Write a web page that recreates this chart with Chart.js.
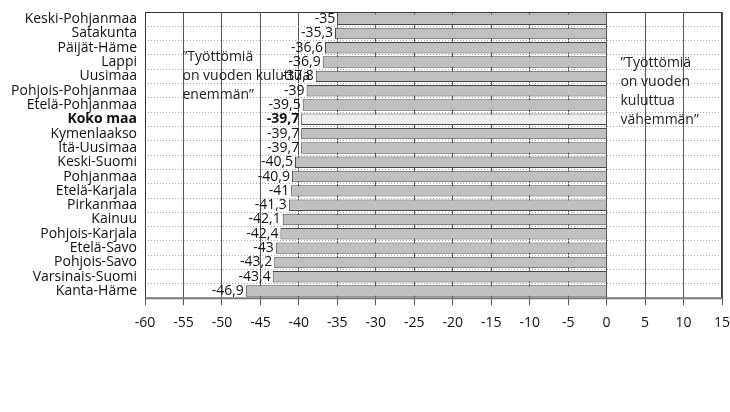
<!DOCTYPE html>
<html>
<head>
<meta charset="utf-8">
<style>
  html, body { margin: 0; padding: 0; background: #fff; }
  #wrap { width: 730px; height: 412px; }
</style>
</head>
<body>
<div id="wrap"><canvas id="chart"></canvas></div>
<script src="https://cdn.jsdelivr.net/npm/chart.js"></script>
<script>
var regions = ['Keski-Pohjanmaa', 'Satakunta', 'Päijät-Häme', 'Lappi', 'Uusimaa',
  'Pohjois-Pohjanmaa', 'Etelä-Pohjanmaa', 'Koko maa', 'Kymenlaakso', 'Itä-Uusimaa',
  'Keski-Suomi', 'Pohjanmaa', 'Etelä-Karjala', 'Pirkanmaa', 'Kainuu',
  'Pohjois-Karjala', 'Etelä-Savo', 'Pohjois-Savo', 'Varsinais-Suomi', 'Kanta-Häme'];
var values = [-35, -35.3, -36.6, -36.9, -37.8, -39, -39.5, -39.7, -39.7, -39.7,
  -40.5, -40.9, -41, -41.3, -42.1, -42.4, -43, -43.2, -43.4, -46.9];
var xTicks = [-60, 15, 5]; // min, max, step
var noteLeft = ['”Työttömiä', 'on vuoden kuluttua', 'enemmän”'];
var noteRight = ['”Työttömiä', 'on vuoden', 'kuluttua', 'vähemmän”'];
var highlight = 'Koko maa';

var FONT = '"Open Sans", sans-serif';
var FS = 14;

var fills = regions.map(function(r) { return r === highlight ? '#ededed' : '#c0c0c0'; });

var labelPlugin = {
  id: 'labels',
  afterDatasetsDraw: function(chart) {
    var ctx = chart.ctx;
    var meta = chart.getDatasetMeta(0);
    ctx.save();
    ctx.fillStyle = '#111';
    ctx.textAlign = 'right';
    ctx.textBaseline = 'middle';
    meta.data.forEach(function(bar, i) {
      ctx.font = (regions[i] === highlight ? 'bold ' : '') + FS + 'px ' + FONT;
      ctx.fillText(String(values[i]).replace('.', ','), bar.x - 2, bar.y);
    });
    // notes
    var xs = chart.scales.x;
    var area = chart.chartArea;
    ctx.font = FS + 'px ' + FONT;
    ctx.textAlign = 'left';
    ctx.fillStyle = '#222';
    noteLeft.forEach(function(t, i) {
      ctx.fillText(t, xs.getPixelForValue(-55) - 1, area.top + 45 + i * 19);
    });
    noteRight.forEach(function(t, i) {
      ctx.fillText(t, xs.getPixelForValue(1.8), area.top + 51 + i * 19);
    });
    // frame
    ctx.strokeStyle = '#333';
    ctx.lineWidth = 1;
    ctx.beginPath();
    ctx.moveTo(area.left + 0.5, area.bottom);
    ctx.lineTo(area.left + 0.5, area.top + 0.5);
    ctx.lineTo(area.right - 0.5, area.top + 0.5);
    ctx.lineTo(area.right - 0.5, area.bottom);
    ctx.stroke();
    ctx.strokeStyle = '#777';
    ctx.lineWidth = 2;
    ctx.beginPath();
    ctx.moveTo(area.left, area.bottom);
    ctx.lineTo(area.right, area.bottom);
    ctx.stroke();
    ctx.restore();
  }
};

new Chart(document.getElementById('chart'), {
  type: 'bar',
  data: {
    labels: regions,
    datasets: [{
      data: values,
      backgroundColor: fills,
      borderColor: '#444',
      borderWidth: 1,
      barPercentage: 0.8,
      categoryPercentage: 1
    }]
  },
  options: {
    indexAxis: 'y',
    responsive: true,
    maintainAspectRatio: false,
    animation: false,
    layout: { padding: { left: 0, right: 8, top: 12, bottom: 72 } },
    plugins: { legend: { display: false }, tooltip: { enabled: false } },
    scales: {
      x: {
        min: xTicks[0],
        max: xTicks[1],
        ticks: { stepSize: xTicks[2], color: '#111', font: { family: FONT, size: FS }, maxRotation: 0, padding: 9 },
        grid: { color: '#555', lineWidth: 1, tickLength: 7, drawTicks: true },
        border: { display: false },
        afterFit: function(s) { s.paddingLeft = 0; s.paddingRight = 0; }
      },
      y: {
        ticks: {
          autoSkip: false,
          color: '#111',
          padding: 8,
          font: function(c) {
            return { family: FONT, size: FS, weight: regions[c.index] === highlight ? 'bold' : 'normal' };
          }
        },
        grid: { color: '#aaa', lineWidth: 1, drawTicks: false },
        border: { display: false, dash: [1, 2] },
        afterFit: function(s) { s.width = 145; s.paddingTop = 0; s.paddingBottom = 0; }
      }
    }
  },
  plugins: [labelPlugin]
});
</script>
</body>
</html>
